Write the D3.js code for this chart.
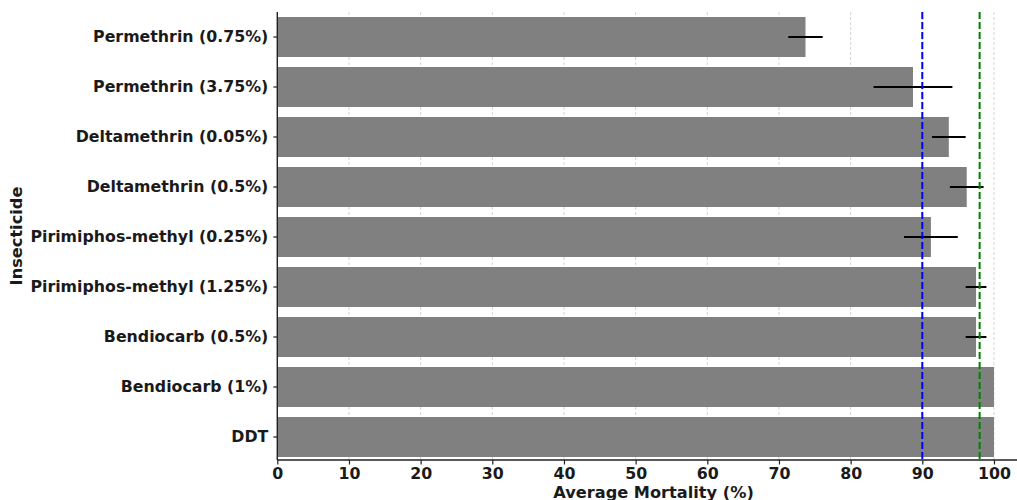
<!DOCTYPE html>
<html><head><meta charset="utf-8">
<script src="https://cdn.jsdelivr.net/npm/d3@7"></script>
<style>body{margin:0;background:#fff}svg{display:block}text{font-family:"DejaVu Sans",sans-serif;font-weight:bold;fill:#1a1a1a}</style>
</head><body>
<script>
const categories = ["Permethrin (0.75%)","Permethrin (3.75%)","Deltamethrin (0.05%)","Deltamethrin (0.5%)","Pirimiphos-methyl (0.25%)","Pirimiphos-methyl (1.25%)","Bendiocarb (0.5%)","Bendiocarb (1%)","DDT"];
const mortality = [73.7, 88.7, 93.7, 96.2, 91.2, 97.5, 97.5, 100, 100];
const errors = [2.4, 5.5, 2.35, 2.35, 3.75, 1.45, 1.45, 0, 0];
const xTicks = [0,10,20,30,40,50,60,70,80,90,100];
const refLines = [{v:90,c:"#0000ff"},{v:98,c:"#008000"}];

(function(){
const W=1017,H=500;
const svg=d3.select("body").append("svg").attr("width",W).attr("height",H);
const x=d3.scaleLinear().domain([0,105]).range([277.3,1029.8]);
const y=d3.scaleBand().domain(categories).range([12,462]).paddingInner(0.2).paddingOuter(0.1);
const yTop=12,yBot=460;
const fs="15.8px", fsT="16.2px";

// grid
svg.append("g").selectAll("line").data(xTicks).join("line")
  .attr("x1",d=>x(d)).attr("x2",d=>x(d)).attr("y1",yTop).attr("y2",yBot)
  .attr("stroke","#cfcfcf").attr("stroke-width",0.9).attr("stroke-dasharray","3,2");

// bars
svg.append("g").selectAll("rect").data(categories).join("rect")
  .attr("x",x(0)).attr("y",d=>y(d)).attr("width",(d,i)=>x(mortality[i])-x(0)).attr("height",y.bandwidth())
  .attr("fill","#808080");

// error bars
svg.append("g").selectAll("line").data(categories.filter((d,i)=>errors[i]>0)).join("line")
  .attr("x1",d=>{const i=categories.indexOf(d);return x(mortality[i]-errors[i]);})
  .attr("x2",d=>{const i=categories.indexOf(d);return x(mortality[i]+errors[i]);})
  .attr("y1",d=>y(d)+y.bandwidth()/2).attr("y2",d=>y(d)+y.bandwidth()/2)
  .attr("stroke","#000").attr("stroke-width",2);

// ref lines
svg.append("g").selectAll("line").data(refLines).join("line")
  .attr("x1",d=>x(d.v)).attr("x2",d=>x(d.v)).attr("y1",yTop).attr("y2",yBot)
  .attr("stroke",d=>d.c).attr("stroke-width",2).attr("stroke-dasharray","7,3");

// x axis
const xa=svg.append("g").attr("transform",`translate(0,${yBot})`)
  .call(d3.axisBottom(x).tickValues(xTicks).tickSize(4.5).tickPadding(3).tickFormat(d3.format("d")));
xa.select(".domain").attr("stroke","#222").attr("stroke-width",1.4).attr("d",`M${x(0)},0H${x(105)}`);
xa.selectAll(".tick line").attr("stroke","#222").attr("stroke-width",1.2);
xa.selectAll("text").attr("font-size",fs).attr("fill","#1a1a1a").attr("font-family","DejaVu Sans").attr("font-weight","bold");

// y axis
const ya=svg.append("g").attr("transform",`translate(${x(0)},0)`)
  .call(d3.axisLeft(y).tickSize(4).tickPadding(5));
ya.select(".domain").attr("stroke","#222").attr("stroke-width",1.4).attr("d",`M0,${yTop}V${yBot}`);
ya.selectAll(".tick line").attr("stroke","#222").attr("stroke-width",1.2);
ya.selectAll("text").attr("font-size",fs).attr("fill","#1a1a1a").attr("font-family","DejaVu Sans").attr("font-weight","bold");

// axis titles
svg.append("text").attr("x",(x(0)+x(105))/2).attr("y",498).attr("text-anchor","middle")
  .attr("font-size",fsT).text("Average Mortality (%)");
svg.append("text").attr("transform",`translate(22,${(yTop+yBot)/2}) rotate(-90)`).attr("text-anchor","middle")
  .attr("font-size",fsT).text("Insecticide");
})();
</script>
</body></html>
